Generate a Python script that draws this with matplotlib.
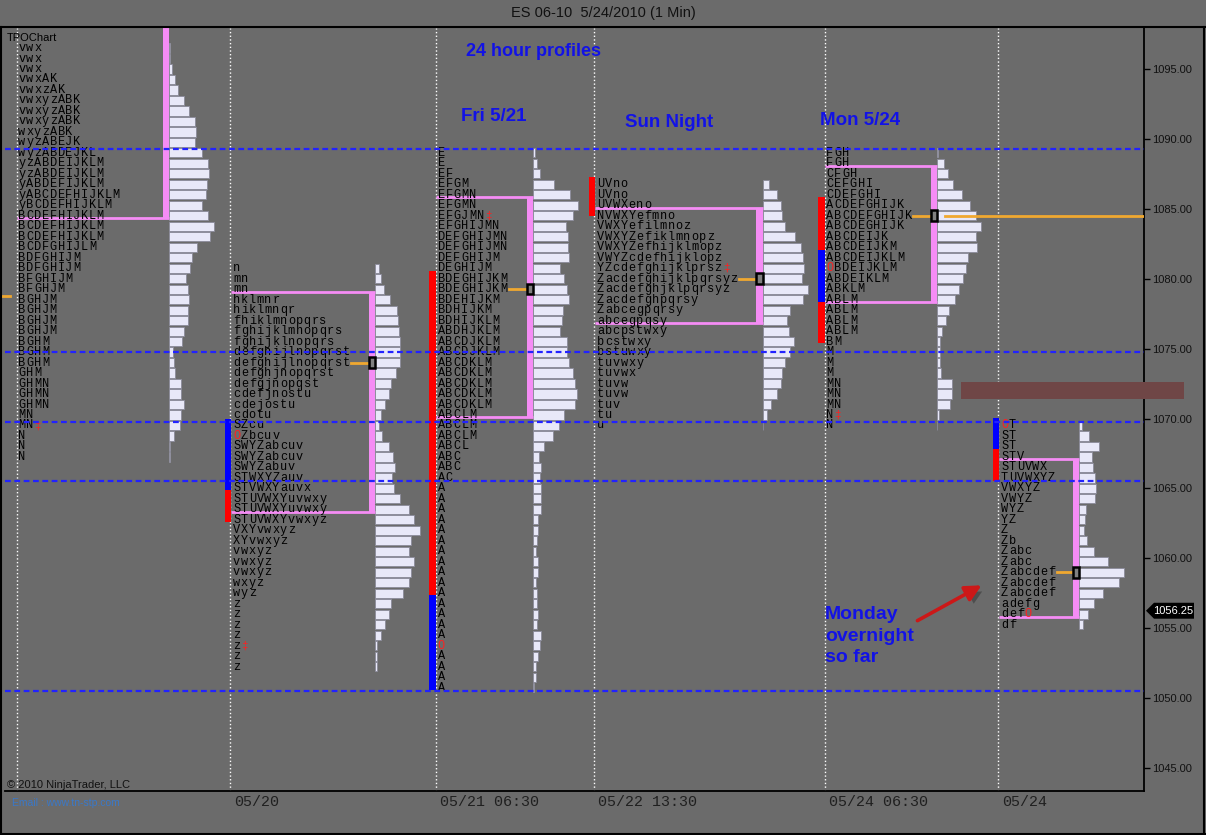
import matplotlib
matplotlib.use('Agg')
import matplotlib.pyplot as plt
from matplotlib.patches import Rectangle, Polygon, FancyArrowPatch
from matplotlib.lines import Line2D
from matplotlib.transforms import ScaledTranslation
import matplotlib.patheffects as pe

# ---- data -------------------------------------------------------------
ROW = 0.75   # price step of one TPO row

# session boundaries (chart column) and their labels
sess_x = [17, 230, 436, 594, 825, 998]
sess_lab = ['', '05/20', '05/21 06:30', '05/22 13:30', '05/24 06:30', '05/24']

key_levels = [1089.25, 1074.75, 1069.75, 1065.5, 1050.5]
last_price = 1056.25
prev_poc = 1078.75

# '@' = red opening mark, '#' = red closing mark
p1_top = 1096.5
p1_letters = ["vwx", "vwx", "vwx", "vwxAK", "vwxzAK", "vwxyzABK", "vwxyzABK", "vwxyzABK",
              "wxyzABK", "wyzABEJK", "wyzABDEJKL", "yzABDEIJKLM", "yzABDEIJKLM", "yABDEFIJKLM",
              "yABCDEFHIJKLM", "yBCDEFHIJKLM", "BCDEFHIJKLM", "BCDEFHIJKLM", "BCDEFHIJKLM",
              "BCDFGHIJLM", "BDFGHIJM", "BDFGHIJM", "BFGHIJM", "BFGHJM", "BGHJM", "BGHJM",
              "BGHJM", "BGHJM", "BGHM", "BGHM", "BGHM", "GHM", "GHMN", "GHMN", "GHMN", "MN",
              "MN#", "N", "N", "N"]
p1_vol = [1, 1, 3, 6, 9, 15, 20, 26, 27, 26, 33, 39, 40, 38, 37, 33, 39, 45, 41, 28,
          23, 21, 17, 19, 20, 19, 19, 15, 13, 4, 5, 6, 12, 12, 15, 12, 11, 5, 1, 1]
p1_va = (1099.5, 1084.5)
p1_poc = None
p1_side = []

p2_top = 1080.75
p2_letters = ["n", "mn", "mn", "hklmnr", "hiklmnqr", "fhiklmnopqrs", "fghijklmnopqrs",
              "fghijklnopqrs", "defghijlnopqrst", "defghijlnopqrst", "defghjnopqrst",
              "defgjnopqst", "cdefjnostu", "cdejostu", "cdotu", "SZcu", "@Zbcuv", "SWYZabcuv",
              "SWYZabcuv", "SWYZabuv", "STWXYZauv", "STVWXYauvx", "STUVWXYuvwxy",
              "STUVWXYuvwxy", "STUVWXYvwxyz", "VXYvwxyz", "XYvwxyz", "vwxyz", "vwxyz", "vwxyz",
              "wxyz", "wyz", "z", "z", "z", "z", "z#", "z", "z"]
p2_vol = [4, 6, 9, 15, 22, 23, 24, 25, 25, 25, 21, 16, 14, 10, 6, 4, 7, 14, 18, 20,
          17, 19, 25, 34, 39, 45, 36, 34, 39, 36, 34, 28, 16, 14, 10, 6, 2, 2, 2]
p2_va = (1079.25, 1063.5)
p2_poc = 1074.0
p2_side = [(1070.0, 1064.9, 'b'), (1064.9, 1062.6, 'r')]

p3_top = 1089.0
p3_letters = ["E", "E", "EF", "EFGM", "EFGMN", "EFGMN", "EFGJMN#", "EFGHIJMN", "DEFGHIJMN",
              "DEFGHIJMN", "DEFGHIJM", "DEGHIJM", "BDEGHIJKM", "BDEGHIJKM", "BDEHIJKM",
              "BDHIJKM", "BDHIJKLM", "ABDHJKLM", "ABCDJKLM", "ABCDJKLM", "ABCDKLM", "ABCDKLM",
              "ABCDKLM", "ABCDKLM", "ABCDKLM", "ABCLM", "ABCLM", "ABCLM", "ABCL", "ABC", "ABC",
              "AC", "A", "A", "A", "A", "A", "A", "A", "A", "A", "A", "A", "A", "A", "A", "A",
              "@", "A", "A", "A", "A"]
p3_vol = [2, 4, 7, 21, 37, 45, 40, 33, 35, 35, 36, 27, 31, 34, 36, 30, 29, 27, 34, 34,
          36, 40, 42, 44, 42, 31, 26, 20, 11, 6, 8, 7, 8, 8, 8, 5, 5, 4, 3, 5,
          5, 3, 4, 4, 5, 4, 8, 7, 5, 3, 3, 1]
p3_va = (1086.0, 1070.25)
p3_poc = 1079.25
p3_side = [(1080.55, 1057.4, 'r'), (1057.4, 1050.55, 'b')]

p4_top = 1086.75
p4_letters = ["UVno", "UVno", "UVWXeno", "NVWXYefmno", "VWXYefilmnoz", "VWXYZefiklmnopz",
              "VWXYZefhijklmopz", "VWYZcdefhijklopz", "YZcdefghijklprsz#", "Zacdefghijklpqrsyz",
              "Zacdefghjklpqrsyz", "Zacdefghpqrsy", "Zabcegpqrsy", "abcegpqsy", "abcpstwxy",
              "bcstwxy", "bstuwxy", "tuvwxy", "tuvwx", "tuvw", "tuvw", "tuv", "tu", "u"]
p4_vol = [6, 14, 18, 19, 22, 32, 38, 40, 41, 39, 45, 40, 27, 24, 26, 31, 27, 22, 19, 18,
          14, 8, 4, 0]
p4_va = (1085.25, 1077.0)
p4_poc = 1080.0
p4_side = [(1087.3, 1084.45, 'r')]

p5_top = 1089.0
p5_letters = ["FGH", "FGH", "CFGH", "CEFGHI", "CDEFGHI", "ACDEFGHIJK", "ABCDEFGHIJK",
              "ABCDEGHIJK", "ABCDEIJK", "ABCDEIJKM", "ABCDEIJKLM", "@BDEIJKLM", "ABDEIKLM",
              "ABKLM", "ABLM", "ABLM", "ABLM", "ABLM", "BM", "M", "M", "M", "MN", "MN", "MN",
              "N#", "N"]
p5_vol = [1, 7, 11, 16, 25, 33, 39, 44, 39, 40, 31, 29, 26, 22, 18, 12, 9, 5, 3, 3,
          3, 4, 15, 15, 13, 2, 0]
p5_va = (1088.25, 1078.5)
p5_poc = 1084.5
p5_side = [(1085.85, 1082.05, 'r'), (1082.05, 1078.3, 'b'), (1078.3, 1075.4, 'r')]

p6_top = 1069.5
p6_letters = ["@T", "ST", "ST", "STV", "STUVWX", "TUVWXYZ", "VWXYZ", "VWYZ", "WYZ", "YZ",
              "Z", "Zb", "Zabc", "Zabc", "Zabcdef", "Zabcdef", "Zabcdef", "adefg", "def@", "df"]
p6_vol = [3, 10, 20, 13, 14, 16, 17, 16, 7, 6, 5, 8, 15, 29, 45, 40, 24, 15, 9, 4]
p6_va = (1067.25, 1056.0)
p6_poc = 1059.0
p6_side = [(1070.05, 1067.8, 'b'), (1067.8, 1065.5, 'r')]

# ---- layout / style ---------------------------------------------------
W, H = 1206, 835
BG = '#6b6b6b'
PINK = '#f58cf5'
ORANGE = '#f0a830'
BAR = '#e8e8f8'
CW = 7.83          # width of one letter cell
MONO = ['Liberation Mono', 'DejaVu Sans Mono']
SANS = ['Liberation Sans', 'DejaVu Sans']
LBLUE = '#1212e6'


def py2price(py):
    return 1095 - (py - 69) / 13.98


profiles = [
    # top, letters, vol, va, poc, side, text_x, bar_x
    (p1_top, p1_letters, p1_vol, p1_va, p1_poc, p1_side, 18.0, 169.0),
    (p2_top, p2_letters, p2_vol, p2_va, p2_poc, p2_side, 232.7, 375.0),
    (p3_top, p3_letters, p3_vol, p3_va, p3_poc, p3_side, 437.3, 533.0),
    (p4_top, p4_letters, p4_vol, p4_va, p4_poc, p4_side, 596.7, 762.7),
    (p5_top, p5_letters, p5_vol, p5_va, p5_poc, p5_side, 826.0, 937.0),
    (p6_top, p6_letters, p6_vol, p6_va, p6_poc, p6_side, 1000.7, 1079.0),
]

fig = plt.figure(figsize=(W / 100, H / 100), dpi=100, facecolor=BG)
ax = fig.add_axes([5 / W, 1 - 791 / H, (1144 - 5) / W, (791 - 28) / H])
ax.set_facecolor(BG)
ax.set_xlim(5, 1144)
ax.set_ylim(py2price(791), py2price(28))

for top, letters, vol, va, poc, side, tx, bx in profiles:
    prices = [top - i * ROW for i in range(len(letters))]
    # volume bars
    ax.barh(prices, vol, left=bx, height=0.66, color=BAR, edgecolor='#8a8a9a',
            linewidth=0.6, zorder=2)
    # letters, one cell at a time (wide spaced like the platform font)
    for p, s in zip(prices, letters):
        for k, ch in enumerate(s):
            cx = tx + k * CW + CW / 2
            if ch == '@':
                ax.text(cx, p, 'O', family=MONO, fontsize=8.6, color='#ff2020',
                        ha='center', va='center', zorder=4)
            elif ch == '#':
                ax.text(cx, p, '\u2021', family=MONO, fontsize=8, color='#ff2020',
                        ha='center', va='center', zorder=4)
            else:
                ax.text(cx, p, ch, family=MONO, fontsize=8.6, color='black',
                        ha='center', va='center', zorder=4)
    # value area
    hi, lo = va[0] - 0.17, va[1] - 0.17
    ax.add_patch(Rectangle((bx - 6.5, lo), 6.5, hi - lo, facecolor=PINK,
                           edgecolor='none', zorder=3))
    for lv in (hi, lo):
        ax.plot([tx - 1.5, bx], [lv, lv], color=PINK, lw=2, zorder=3,
                solid_capstyle='butt')
    # point of control
    if poc is not None:
        n = letters[prices.index(poc)] if poc in prices else ''
        ax.plot([tx + len(n) * CW + 1, bx - 6.5], [poc, poc], color=ORANGE, lw=2, zorder=3)
        ax.add_patch(Rectangle((bx - 6.5, poc - 0.38), 6.5, 0.76, facecolor='#808080',
                               edgecolor='black', lw=1.8, zorder=5))
    # range bars on the left
    for a, b, c in side:
        ax.add_patch(Rectangle((tx - 8, b), 6.5, a - b,
                               facecolor='#ff0000' if c == 'r' else '#0000ff',
                               edgecolor='none', zorder=3))

# current session poc carried to the right edge
ax.plot([945, 1144], [p5_poc, p5_poc], color=ORANGE, lw=2, zorder=3)
ax.plot([2, 10], [prev_poc, prev_poc], color=ORANGE, lw=2, zorder=3, clip_on=False)

for lv in key_levels:
    ax.axhline(lv, color='#2222ff', lw=1.6, dashes=(2.6, 1.6), zorder=6)

# shaded zone
z_lo, z_hi = py2price(399), py2price(382)
ax.add_patch(Rectangle((961, z_lo), 223, z_hi - z_lo, facecolor='#6f4646',
                       edgecolor='none', zorder=3, clip_on=False))

# annotations
ax.text(466, py2price(51), '24 hour profiles', family=SANS, weight='bold', fontsize=13,
        color=LBLUE, ha='left', va='center', zorder=7)
ax.text(461, py2price(116), 'Fri 5/21', family=SANS, weight='bold', fontsize=13.5,
        color=LBLUE, ha='left', va='center', zorder=7)
ax.text(625, py2price(122), 'Sun Night', family=SANS, weight='bold', fontsize=13.5,
        color=LBLUE, ha='left', va='center', zorder=7)
ax.text(820, py2price(120), 'Mon 5/24', family=SANS, weight='bold', fontsize=13.5,
        color=LBLUE, ha='left', va='center', zorder=7)
ax.text(825, py2price(636), 'Monday\novernight\nso far', family=SANS, weight='bold',
        fontsize=14, color=LBLUE, ha='left', va='center', linespacing=1.32, zorder=7)

arr = FancyArrowPatch((915, py2price(622)), (984, py2price(584)), arrowstyle='-|>',
                      mutation_scale=24, lw=2.6, color='#cc1818', zorder=7,
                      path_effects=[pe.withSimplePatchShadow(offset=(3, -3),
                                                             shadow_rgbFace='#333333',
                                                             alpha=0.5)])
ax.add_patch(arr)

ax.text(7, py2price(38), 'TPOChart', family=SANS, fontsize=8, color='black',
        ha='left', va='center', zorder=7)
ax.text(7, py2price(785), '\u00a9 2010 NinjaTrader, LLC', family=SANS, fontsize=8,
        color='#111111', ha='left', va='center', zorder=7)

# last price flag
flag = Polygon([(1146, last_price), (1154, last_price + 0.57), (1194, last_price + 0.57),
                (1194, last_price - 0.57), (1154, last_price - 0.57)],
               closed=True, facecolor='black', edgecolor='none', clip_on=False, zorder=8)
ax.add_patch(flag)
ax.text(1173, last_price, '%.2f' % last_price, family=SANS, fontsize=8, color='white',
        ha='center', va='center', clip_on=False, zorder=9)

# axes
for s in ('left', 'top'):
    ax.spines[s].set_visible(False)
for s in ('right', 'bottom'):
    ax.spines[s].set_color('black')
    ax.spines[s].set_linewidth(1.3)

ax.yaxis.tick_right()
yt = list(range(1045, 1100, 5))
ax.set_yticks(yt)
ax.set_yticklabels(['%.2f' % v for v in yt], family=SANS, fontsize=8, color='#111111')
ax.tick_params(axis='y', length=4, width=1, color='black', pad=2)

ax.set_xticks(sess_x)
ax.set_xticklabels(sess_lab, family=MONO, fontsize=10.8, color='#202020')
ax.tick_params(axis='x', length=0, pad=3)
for lab in ax.get_xticklabels():
    lab.set_ha('left')
    lab.set_transform(lab.get_transform() + ScaledTranslation(0.04, 0, fig.dpi_scale_trans))
ax.set_axisbelow(True)
ax.grid(axis='x', color='white', ls=':', lw=1)
ax.grid(axis='y', visible=False)

# outer frame and header
for (x0, y0, x1, y1) in [(0, 27, W, 27), (1, 27, 1, H), (W - 2, 27, W - 2, H), (0, H - 1, W, H - 1)]:
    fig.add_artist(Line2D([x0 / W, x1 / W], [1 - y0 / H, 1 - y1 / H], color='black', lw=1.5))
fig.text(0.5, 1 - 13 / H, 'ES 06-10  5/24/2010 (1 Min)', family=SANS, fontsize=10.5,
         color='#111111', ha='center', va='center')
fig.text(12 / W, 1 - 803 / H, 'Email : www.tn-stp.com', family=SANS, fontsize=7.5,
         color='#3a78c8', ha='left', va='center')

fig.savefig('out.png', dpi=100, facecolor=BG)
